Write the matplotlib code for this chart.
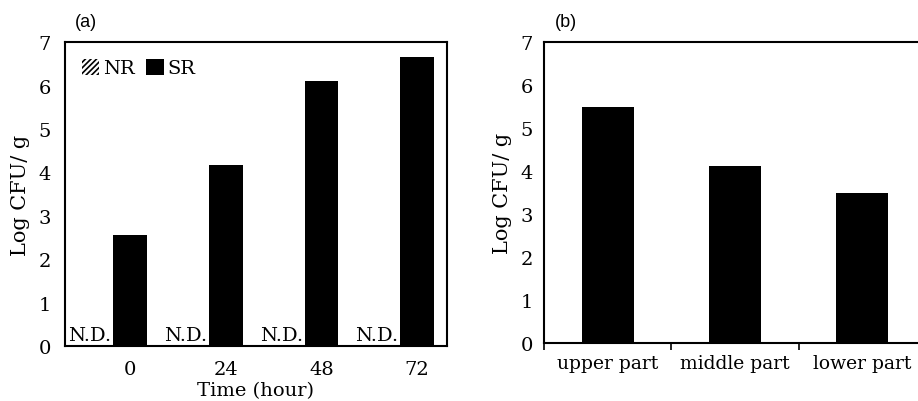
import matplotlib.pyplot as plt
from matplotlib.patches import Patch

# 数据
time_labels = ['0', '24', '48', '72']
nr_values = [0, 0, 0, 0]          # N.D.
sr_values = [2.55, 4.18, 6.1, 6.65]

part_labels = ['upper part', 'middle part', 'lower part']
part_values = [5.5, 4.12, 3.5]

plt.rcParams['font.family'] = ['DejaVu Serif']
plt.rcParams['font.size'] = 13
plt.rcParams['hatch.linewidth'] = 1.2

fig = plt.figure(figsize=(9.18, 4.02), dpi=100)

# (a)
ax1 = fig.add_axes([0.0708, 0.1368, 0.416, 0.756])
w = 0.355
xs = list(range(len(time_labels)))
ax1.bar([x - w for x in xs], nr_values, width=w, color='white', edgecolor='black',
        hatch='//////', linewidth=0)
ax1.bar(xs, sr_values, width=w, color='black')
for x, v in zip(xs, nr_values):
    if v == 0:
        ax1.text(x - 0.42, 0.05, 'N.D.', ha='center', va='bottom', fontsize=14)
ax1.set_xlim(-0.68, 3.31)
ax1.set_ylim(0, 7)
ax1.set_xticks(xs)
ax1.set_xticklabels(time_labels)
ax1.set_yticks(range(8))
ax1.tick_params(length=0, pad=10, labelsize=14)
ax1.set_xlabel('Time (hour)', labelpad=2, fontsize=14)
ax1.set_ylabel('Log CFU/ g', labelpad=6, fontsize=15)
for s in ax1.spines.values():
    s.set_linewidth(1.5)
handles = [Patch(facecolor='white', edgecolor='black', hatch='//////', linewidth=0, label='NR'),
           Patch(facecolor='black', label='SR')]
ax1.legend(handles=handles, loc='upper left', ncol=2, frameon=False, handlelength=0.9,
           handleheight=0.9, handletextpad=0.2, columnspacing=0.6, borderaxespad=0.45,
           fontsize=14)
fig.text(0.094, 0.943, '(a)', family='Liberation Sans', fontsize=13, ha='center', va='center')

# (b)
ax2 = fig.add_axes([0.5926, 0.144, 0.416, 0.749])
xs2 = list(range(len(part_labels)))
ax2.bar(xs2, part_values, width=0.41, color='black')
ax2.set_xlim(-0.5, 2.5)
ax2.set_ylim(0, 7)
ax2.set_xticks(xs2)
ax2.set_xticklabels(part_labels, fontsize=13.5)
ax2.set_xticks([-0.5, 0.5, 1.5, 2.5], minor=True)
ax2.set_yticks(range(8))
ax2.tick_params(which='major', length=0, pad=8)
ax2.tick_params(which='major', axis='y', labelsize=14)
ax2.tick_params(which='minor', axis='x', length=5, width=1.2, direction='out')
ax2.set_ylabel('Log CFU/ g', labelpad=6, fontsize=15)
for s in ax2.spines.values():
    s.set_linewidth(1.5)
fig.text(0.617, 0.943, '(b)', family='Liberation Sans', fontsize=13, ha='center', va='center')

plt.savefig('out.png')
